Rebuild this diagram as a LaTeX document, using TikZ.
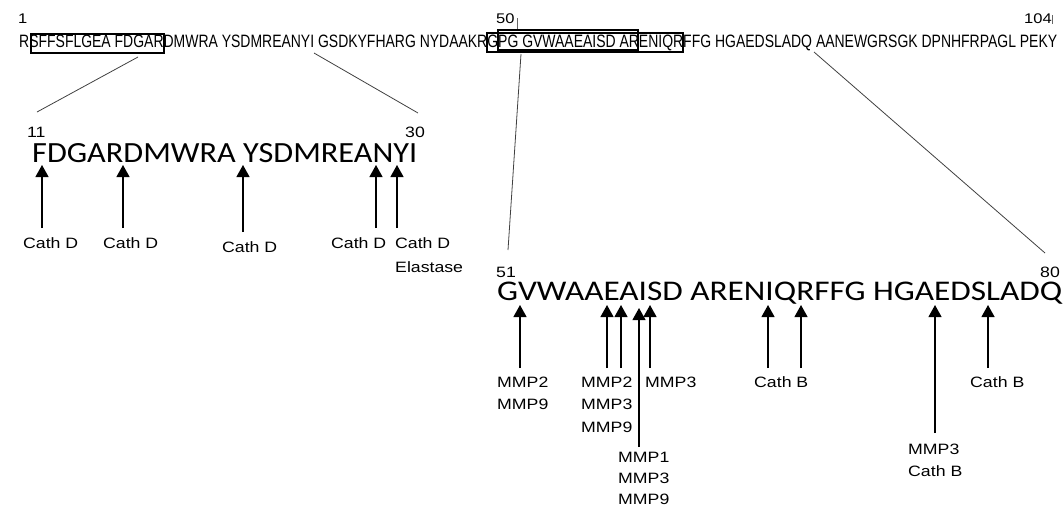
\documentclass[tikz,border=0pt]{standalone}
\usepackage{fontspec}
\setmainfont{Liberation Sans}
\newfontfamily\labfont[FakeStretch=1.18]{Liberation Sans}
\newfontfamily\bigfont{Carlito}
\usetikzlibrary{arrows.meta}
\begin{document}
\begin{tikzpicture}[x=1pt,y=-1pt,
  lab/.style={anchor=north west, inner sep=0pt, align=left, font=\labfont\fontsize{15}{22.5}\selectfont},
  labl/.style={lab, font=\labfont\fontsize{15}{24}\selectfont},
  labs/.style={lab, font=\labfont\fontsize{15}{21}\selectfont},
  num/.style={anchor=base west, inner sep=0pt, font=\labfont\fontsize{15}{18}\selectfont},
  topnum/.style={anchor=base west, inner sep=0pt, font=\labfont\fontsize{14}{16}\selectfont},
  cut/.style={-{Triangle[width=13pt,length=12pt]}, line width=1.2pt},
  zoomline/.style={line width=0.8pt, draw=black!75},
  tick/.style={line width=0.7pt, draw=black!60},
  seqbox/.style={draw, line width=1.6pt, inner sep=0pt, anchor=north west},
]
\useasboundingbox (0,0) rectangle (1064,512);

% full sequence
\node[anchor=base west, inner sep=0pt] (seq) at (19,47.5)
  {\resizebox{1038pt}{12.5pt}{RSFFSFLGEA FDGARDMWRA YSDMREANYI GSDKYFHARG NYDAAKRGPG GVWAAEAISD ARENIQRFFG HGAEDSLADQ AANEWGRSGK DPNHFRPAGL PEKY}};
\node[topnum] (n1) at (18,23) {1};
\node[topnum] (n50) at (496,23) {50};
\node[topnum] (n104) at (1024,23) {104};
\coordinate (t50a) at (517,18); \coordinate (t50b) at (517,29);
\coordinate (t104a) at (1052,15); \coordinate (t104b) at (1052,24);
\draw[tick] (t50a) -- (t50b);
\draw[tick] (t104a) -- (t104b);

% boxes
\node[seqbox, minimum width=133pt, minimum height=19pt] (box1) at (30,33) {};
\node[seqbox, minimum width=196pt, minimum height=19pt] (box2) at (486,32) {};
\node[seqbox, minimum width=140pt, minimum height=20pt] (box3) at (497,29) {};

% zoom lines
\coordinate (z1a) at (138,57); \coordinate (z1b) at (37,112);
\coordinate (z2a) at (314,53); \coordinate (z2b) at (418,113);
\coordinate (z3a) at (521,54); \coordinate (z3b) at (508,250);
\coordinate (z4a) at (814,52); \coordinate (z4b) at (1045,253);
\draw[zoomline] (z1a) -- (z1b);
\draw[zoomline] (z2a) -- (z2b);
\draw[zoomline] (z3a) -- (z3b);
\draw[zoomline] (z4a) -- (z4b);

% left detail
\node[num] (n11) at (27,137) {11};
\node[num] (n30) at (405,137) {30};
\node[anchor=base west, inner sep=0pt] (segA) at (32,162)
  {\resizebox{385pt}{19pt}{\bigfont FDGARDMWRA YSDMREANYI}};

\foreach \n/\x in {a1/42, a2/123, a4/376, a5/397} {
  \coordinate (\n t) at (\x,228); \coordinate (\n h) at (\x,165);
}
\coordinate (a3t) at (243,232); \coordinate (a3h) at (243,165);
\foreach \n in {a1,a2,a3,a4,a5} { \draw[cut] (\n t) -- (\n h); }

\node[labl] (la1) at (23,237.5) {Cath D};
\node[labl] (la2) at (103,237.5) {Cath D};
\node[labl] (la3) at (222,241.5) {Cath D};
\node[labl] (la4) at (331,237.5) {Cath D};
\node[labl] (la5) at (395,237.5) {Cath D\\Elastase};

% right detail
\node[num] (n51) at (496,277) {51};
\node[num] (n80) at (1040,277) {80};
\node[anchor=base west, inner sep=0pt] (segB) at (497,300)
  {\resizebox{565pt}{18.5pt}{\bigfont GVWAAEAISD ARENIQRFFG HGAEDSLADQ}};

\foreach \n/\x in {b1/520, b2/607, b3/621, b5/650, b6/768, b7/801, b9/988} {
  \coordinate (\n t) at (\x,368); \coordinate (\n h) at (\x,305);
}
\coordinate (b4t) at (639,447); \coordinate (b4h) at (639,308);
\coordinate (b8t) at (935,433); \coordinate (b8h) at (935,305);
\foreach \n in {b1,b2,b3,b4,b5,b6,b7,b8,b9} { \draw[cut] (\n t) -- (\n h); }

\node[lab] (lb1) at (497,376.5) {MMP2\\MMP9};
\node[lab] (lb2) at (581,376.5) {MMP2\\MMP3\\MMP9};
\node[lab] (lb3) at (645,376.5) {MMP3};
\node[labs] (lb4) at (618,451.5) {MMP1\\MMP3\\MMP9};
\node[lab] (lb5) at (754,376.5) {Cath B};
\node[lab] (lb6) at (908,443.5) {MMP3\\Cath B};
\node[lab] (lb7) at (970,376.5) {Cath B};
\end{tikzpicture}
\end{document}
